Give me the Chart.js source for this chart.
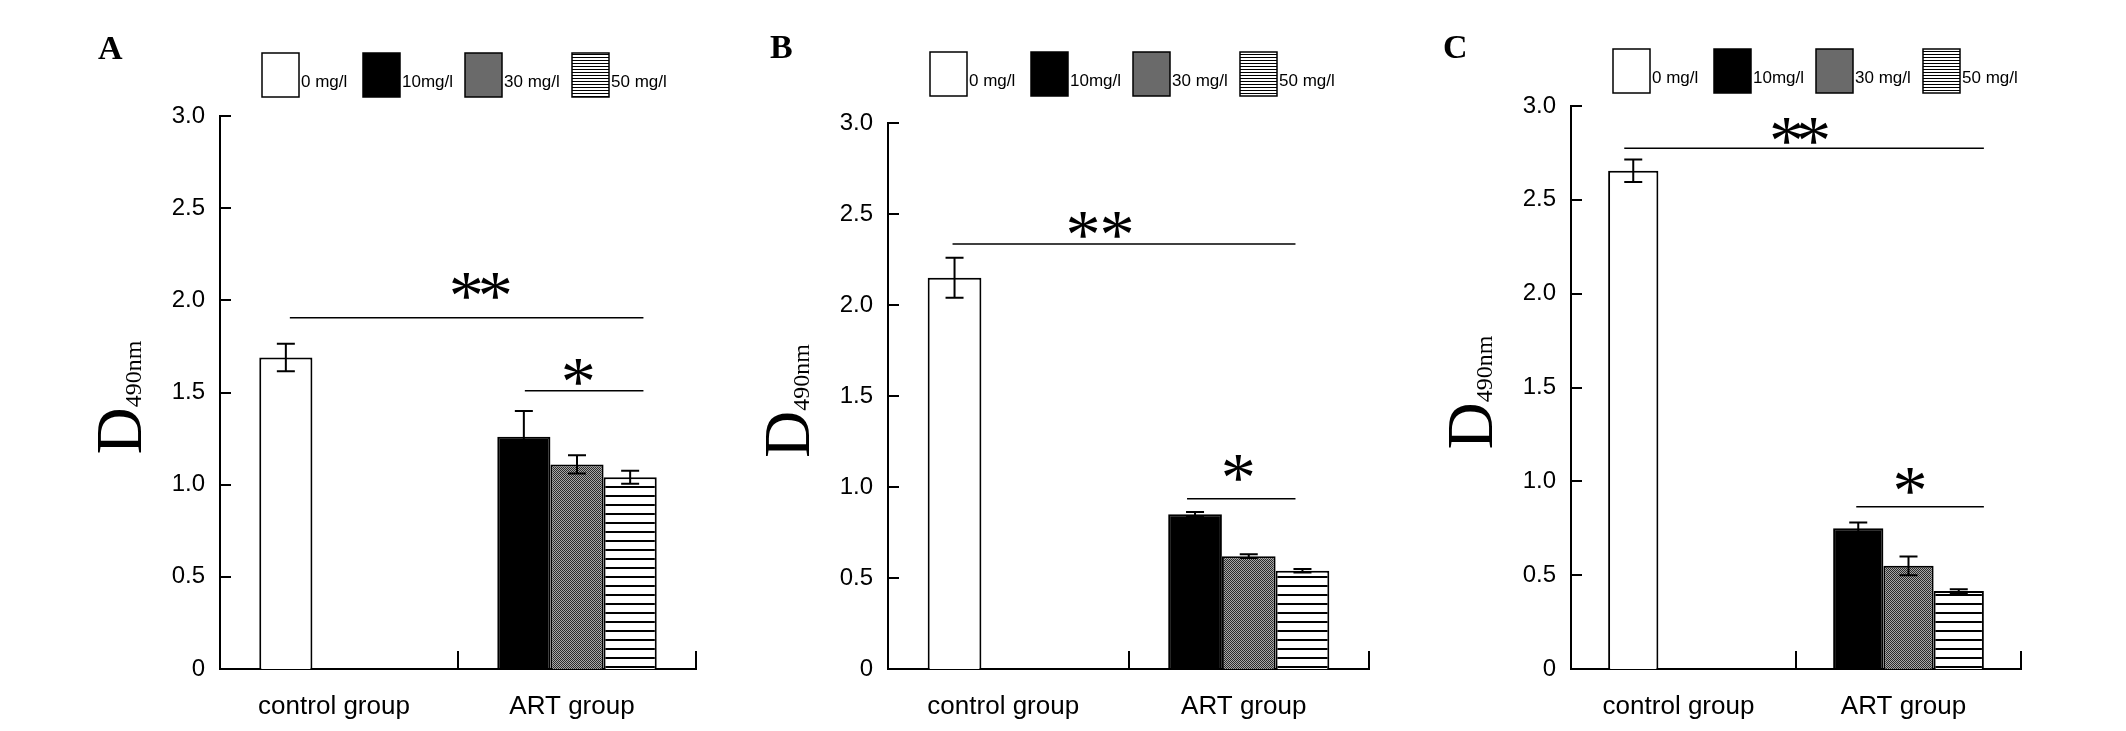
<!DOCTYPE html>
<html>
<head>
<meta charset="utf-8">
<script src="https://cdn.jsdelivr.net/npm/chart.js@4.4.0/dist/chart.umd.min.js"></script>
<style>
  html, body { margin: 0; padding: 0; background: #fff; }
  #wrap { position: relative; width: 2126px; height: 731px; }
  canvas { position: absolute; top: 0; }
</style>
</head>
<body>
<div id="wrap">
  <canvas id="chartA" width="710" height="731" style="left:0px"></canvas>
  <canvas id="chartB" width="710" height="731" style="left:710px"></canvas>
  <canvas id="chartC" width="706" height="731" style="left:1420px"></canvas>
</div>
<script>
// Cell viability panels - D490nm by ART dose

// Categories, legend labels, tick labels
const groups = ['control group', 'ART group'];
const doseLabels = ['0 mg/l', '10mg/l', '30 mg/l', '50 mg/l'];
const yTickValues = [0, 0.5, 1.0, 1.5, 2.0, 2.5, 3.0];
const yTickLabels = ['0', '0.5', '1.0', '1.5', '2.0', '2.5', '3.0'];

// Panel A (0 mg/l is the control group, the rest the ART group)
const meansA = [1.69, 1.26, 1.11, 1.04];
const errorsA = [0.075, 0.14, 0.05, 0.035];
const sigLevelsA = [1.905, 1.51];

// Panel B
const meansB = [2.15, 0.85, 0.62, 0.54];
const errorsB = [0.11, 0.012, 0.01, 0.01];
const sigLevelsB = [2.335, 0.935];

// Panel C
const meansC = [2.655, 0.75, 0.55, 0.415];
const errorsC = [0.06, 0.03, 0.05, 0.01];
const sigLevelsC = [2.775, 0.865];

const SANS = '"Liberation Sans", Arial, sans-serif';
const SERIF = '"Liberation Serif", "Times New Roman", serif';

// Fill patterns
function stripePattern(period, lineW) {
    const c = document.createElement('canvas');
    c.width = 8; c.height = period;
    const x = c.getContext('2d');
    x.fillStyle = '#fff';
    x.fillRect(0, 0, 8, period);
    x.fillStyle = '#000';
    x.fillRect(0, 0, 8, lineW);
    return x.createPattern(c, 'repeat');
}

function stipplePattern() {
    const c = document.createElement('canvas');
    c.width = 2; c.height = 2;
    const x = c.getContext('2d');
    x.fillStyle = '#a8a8a8';
    x.fillRect(0, 0, 2, 2);
    x.fillStyle = '#2a2a2a';
    x.fillRect(0, 0, 1, 1);
    x.fillRect(1, 1, 1, 1);
    return x.createPattern(c, 'repeat');
}

const barFills = ['#ffffff', '#000000', stipplePattern(), stripePattern(9, 2)];
const legendFills = ['#ffffff', '#000000', '#6a6a6a', stripePattern(3, 1)];
const legendOffsets = [42, 143, 245, 352];

function drawStar(ctx, cx, bottomY) {
    ctx.font = '100px ' + SERIF;
    let m = ctx.measureText('*');
    const size = 100 * 26 / (m.actualBoundingBoxAscent + m.actualBoundingBoxDescent);
    ctx.font = size + 'px ' + SERIF;
    m = ctx.measureText('*');
    ctx.textAlign = 'left';
    ctx.textBaseline = 'alphabetic';
    const x = cx - (m.actualBoundingBoxRight - m.actualBoundingBoxLeft) / 2;
    ctx.fillText('*', x, bottomY - m.actualBoundingBoxDescent);
}

const panelPlugin = {
    id: 'panelDecor',
    afterDatasetsDraw(chart, args, opts) {
        const ctx = chart.ctx;
        const yScale = chart.scales.y;
        ctx.save();
        ctx.strokeStyle = '#000';
        ctx.fillStyle = '#000';

        // error bars
        ctx.lineWidth = 2;
        chart.data.datasets.forEach((ds, i) => {
            chart.getDatasetMeta(i).data.forEach((bar, j) => {
                const v = ds.data[j];
                if (v === null || v === undefined) return;
                const e = ds.errorBars[j];
                const hi = yScale.getPixelForValue(v + e);
                const lo = yScale.getPixelForValue(v - e);
                const cap = 9;
                ctx.beginPath();
                ctx.moveTo(bar.x, hi); ctx.lineTo(bar.x, lo);
                ctx.moveTo(bar.x - cap, hi); ctx.lineTo(bar.x + cap, hi);
                ctx.moveTo(bar.x - cap, lo); ctx.lineTo(bar.x + cap, lo);
                ctx.stroke();
            });
        });

        // significance lines and stars
        const endBar = chart.getDatasetMeta(3).data[1];
        opts.sig.forEach((s, k) => {
            const startBar = chart.getDatasetMeta(s.from[0]).data[s.from[1]];
            const x0 = startBar.x + s.startShift;
            const x1 = endBar.x + opts.sigEndFrac * endBar.width;
            const y = yScale.getPixelForValue(opts.sigLevels[k]);
            ctx.lineWidth = 1.5;
            ctx.beginPath();
            ctx.moveTo(x0, y); ctx.lineTo(x1, y);
            ctx.stroke();
            const cx = (x0 + x1) / 2 + s.textShift;
            for (let n = 0; n < s.stars; n++) {
                drawStar(ctx, cx + (n - (s.stars - 1) / 2) * opts.starSpacing, y - s.gap);
            }
        });
        ctx.restore();
    },
    afterDraw(chart, args, opts) {
        const ctx = chart.ctx;
        const area = chart.chartArea;
        const xScale = chart.scales.x;
        const yScale = chart.scales.y;
        ctx.save();
        ctx.strokeStyle = '#000';
        ctx.fillStyle = '#000';

        // inward y ticks
        ctx.lineWidth = 2;
        ctx.beginPath();
        yScale.ticks.forEach(t => {
            const py = Math.round(yScale.getPixelForValue(t.value));
            ctx.moveTo(area.left, py);
            ctx.lineTo(area.left + 11, py);
        });
        // x ticks at category boundaries
        for (let i = 1; i <= groups.length; i++) {
            const px = Math.round(xScale.getPixelForValue(i - 0.5));
            ctx.moveTo(px, area.bottom);
            ctx.lineTo(px, area.bottom - 18);
        }
        ctx.stroke();

        // legend
        chart.data.datasets.forEach((ds, i) => {
            const bx = area.left + legendOffsets[i];
            const by = opts.legendTop;
            ctx.fillStyle = legendFills[i];
            ctx.fillRect(bx, by, 37, 44);
            ctx.lineWidth = 1.5;
            ctx.strokeRect(bx, by, 37, 44);
            ctx.fillStyle = '#000';
            ctx.font = '17px ' + SANS;
            ctx.textAlign = 'left';
            ctx.textBaseline = 'alphabetic';
            ctx.fillText(ds.label, bx + 39, by + 34);
        });

        // panel letter
        ctx.font = 'bold 34px ' + SERIF;
        ctx.textAlign = 'left';
        ctx.fillText(opts.letter, opts.letterX, opts.letterY);

        // y axis title D490nm
        ctx.translate(area.left - 79, (area.top + area.bottom) / 2 + 5);
        ctx.rotate(-Math.PI / 2);
        ctx.font = '65px ' + SERIF;
        const wD = ctx.measureText('D').width;
        ctx.font = '24px ' + SERIF;
        const wSub = ctx.measureText('490nm').width;
        const start = -(wD + wSub) / 2;
        ctx.font = '65px ' + SERIF;
        ctx.fillText('D', start, 0);
        ctx.font = '24px ' + SERIF;
        ctx.fillText('490nm', start + wD, 0);
        ctx.restore();
    }
};

function buildDatasets(means, errors) {
    return doseLabels.map((label, i) => ({
        label: label,
        data: i === 0 ? [means[0], null] : [null, means[i]],
        errorBars: i === 0 ? [errors[0], null] : [null, errors[i]],
        stack: i <= 1 ? 's1' : 's' + i,
        backgroundColor: barFills[i],
        borderColor: '#000',
        borderWidth: 2
    }));
}

function createPanel(id, means, errors, sigLevels, p) {
    const canvas = document.getElementById(id);
    new Chart(canvas, {
        type: 'bar',
        data: {
            labels: groups,
            datasets: buildDatasets(means, errors)
        },
        options: {
            responsive: false,
            animation: false,
            layout: { padding: { left: 0, top: p.top, right: p.right, bottom: 0 } },
            datasets: { bar: { categoryPercentage: 0.67, barPercentage: 1.0 } },
            plugins: {
                legend: { display: false },
                tooltip: { enabled: false },
                panelDecor: {
                    letter: p.letter, letterX: p.letterX, letterY: p.letterY,
                    legendTop: p.legendTop,
                    sig: p.sig, sigLevels: sigLevels,
                    sigEndFrac: p.sigEndFrac, starSpacing: p.starSpacing
                }
            },
            scales: {
                x: {
                    grid: { display: false, drawTicks: false },
                    border: { display: true, color: '#000', width: 2 },
                    ticks: {
                        color: '#000',
                        font: { family: SANS, size: 26 },
                        padding: 22,
                        labelOffset: -5,
                        maxRotation: 0,
                        autoSkip: false
                    },
                    afterFit: s => { s.height = canvas.height - p.bottom; }
                },
                y: {
                    min: 0,
                    max: 3,
                    stacked: false,
                    grid: { display: false, drawTicks: false },
                    border: { display: true, color: '#000', width: 2 },
                    afterBuildTicks: s => { s.ticks = yTickValues.map(v => ({ value: v })); },
                    ticks: {
                        color: '#000',
                        font: { family: SANS, size: 24 },
                        padding: 15,
                        callback: (v, i) => yTickLabels[i]
                    },
                    afterFit: s => { s.width = p.left; }
                }
            }
        },
        plugins: [panelPlugin]
    });
}

createPanel('chartA', meansA, errorsA, sigLevelsA, {
    left: 220, top: 116, right: 14, bottom: 669,
    letter: 'A', letterX: 98, letterY: 59, legendTop: 53,
    sigEndFrac: 0.25, starSpacing: 29,
    sig: [
        { from: [0, 0], stars: 2, gap: 19, textShift: 14, startShift: 4 },
        { from: [1, 1], stars: 1, gap: 6, textShift: -6, startShift: 1 }
    ]
});

createPanel('chartB', meansB, errorsB, sigLevelsB, {
    left: 178, top: 123, right: 51, bottom: 669,
    letter: 'B', letterX: 60, letterY: 58, legendTop: 52,
    sigEndFrac: -0.13, starSpacing: 34,
    sig: [
        { from: [0, 0], stars: 2, gap: 6, textShift: -24, startShift: -2 },
        { from: [1, 1], stars: 1, gap: 18, textShift: -3, startShift: -8 }
    ]
});

createPanel('chartC', meansC, errorsC, sigLevelsC, {
    left: 151, top: 106, right: 105, bottom: 669,
    letter: 'C', letterX: 23, letterY: 58, legendTop: 49,
    sigEndFrac: 0.5, starSpacing: 27,
    sig: [
        { from: [0, 0], stars: 2, gap: 4, textShift: -4, startShift: -9 },
        { from: [1, 1], stars: 1, gap: 13, textShift: -10, startShift: -2 }
    ]
});
</script>
</body>
</html>
